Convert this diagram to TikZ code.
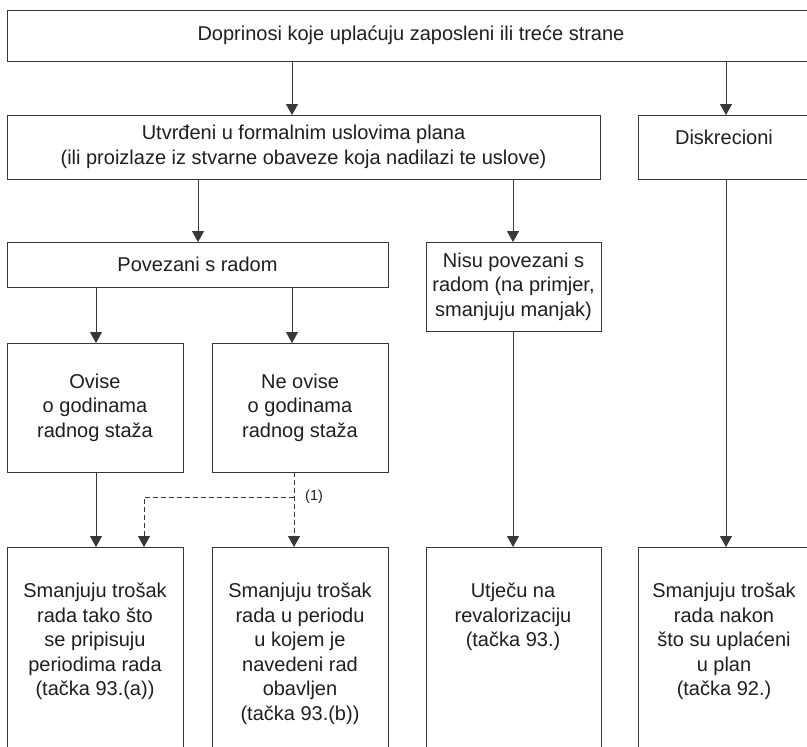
\documentclass[tikz,border=0pt]{standalone}
\usepackage{fontspec}
\setmainfont{Liberation Sans}
\usetikzlibrary{arrows.meta}
\begin{document}
\begin{tikzpicture}[x=1pt,y=-1pt,
  frame/.style={draw=black!78, line width=1pt, rectangle, inner sep=0pt, outer sep=0pt, anchor=north west},
  txt/.style={text=black!88, font=\fontsize{20}{24.5}\selectfont, align=center, inner sep=0pt},
  arr/.style={draw=black!78, line width=1pt, -{Triangle[width=12pt,length=11pt]}},
  darr/.style={arr, dash pattern=on 5pt off 3pt},
  note/.style={text=black!88, font=\fontsize{14.5}{16}\selectfont, inner sep=0pt}
  ]
\useasboundingbox[fill=white] (0,0) rectangle (807,747);
% column coordinates
\coordinate (c1) at (96,0);
\coordinate (c2) at (144,0);
\coordinate (c3) at (198,0);
\coordinate (c4) at (292,0);
\coordinate (c5) at (294,0);
\coordinate (c6) at (513,0);
\coordinate (c7) at (726,0);
\coordinate (dj) at (294,497);
% boxes
\node[frame, txt, minimum width=808, minimum height=51] (top) at (7,10) {Doprinosi koje uplaćuju zaposleni ili treće strane};
\node[frame, txt, minimum width=593, minimum height=64] (utv) at (7,115) {Utvrđeni u formalnim uslovima plana\\(ili proizlaze iz stvarne obaveze koja nadilazi te uslove)};
\node[frame, minimum width=175, minimum height=64] (dis) at (638,115) {};
\node[txt, anchor=north] (dist) at (724,130) {Diskrecioni};
\node[frame, txt, minimum width=381, minimum height=45] (pov) at (7,242) {Povezani s radom};
\node[frame, txt, minimum width=175, minimum height=89] (nis) at (426,242) {Nisu povezani s\\radom (na primjer,\\smanjuju manjak)};
\node[frame, txt, minimum width=176, minimum height=129] (ovi) at (7,343) {Ovise\\o godinama\\radnog staža};
\node[frame, txt, minimum width=176, minimum height=129] (neo) at (212,343) {Ne ovise\\o godinama\\radnog staža};
\node[frame, minimum width=176, minimum height=230] (b1) at (7,547) {};
\node[frame, minimum width=176, minimum height=230] (b2) at (212,547) {};
\node[frame, minimum width=175, minimum height=230] (b3) at (426,547) {};
\node[frame, minimum width=175, minimum height=230] (b4) at (638,547) {};
\node[txt, anchor=north] (b1t) at (95,583) {Smanjuju trošak\\rada tako što\\se pripisuju\\periodima rada\\(tačka 93.(a))};
\node[txt, anchor=north] (b2t) at (300,583) {Smanjuju trošak\\rada u periodu\\u kojem je\\navedeni rad\\obavljen\\(tačka 93.(b))};
\node[txt, anchor=north] (b3t) at (513,583) {Utječu na\\revalorizaciju\\(tačka 93.)};
\node[txt, anchor=north] (b4t) at (724,583) {Smanjuju trošak\\rada nakon\\što su uplaćeni\\u plan\\(tačka 92.)};
% connectors
\draw[arr] (top.south -| c4) -- (utv.north -| c4);
\draw[arr] (top.south -| c7) -- (dis.north -| c7);
\draw[arr] (utv.south -| c3) -- (pov.north -| c3);
\draw[arr] (utv.south -| c6) -- (nis.north -| c6);
\draw[arr] (pov.south -| c1) -- (ovi.north -| c1);
\draw[arr] (pov.south -| c4) -- (neo.north -| c4);
\draw[arr] (ovi.south -| c1) -- (b1.north -| c1);
\draw[arr] (nis.south -| c6) -- (b3.north -| c6);
\draw[arr] (dis.south -| c7) -- (b4.north -| c7);
\draw[darr] (neo.south -| c5) -- (b2.north -| c5);
\draw[darr] (dj) -| (b1.north -| c2);
\node[note, anchor=west] (n1) at (305,497) {(1)};
\end{tikzpicture}
\end{document}
